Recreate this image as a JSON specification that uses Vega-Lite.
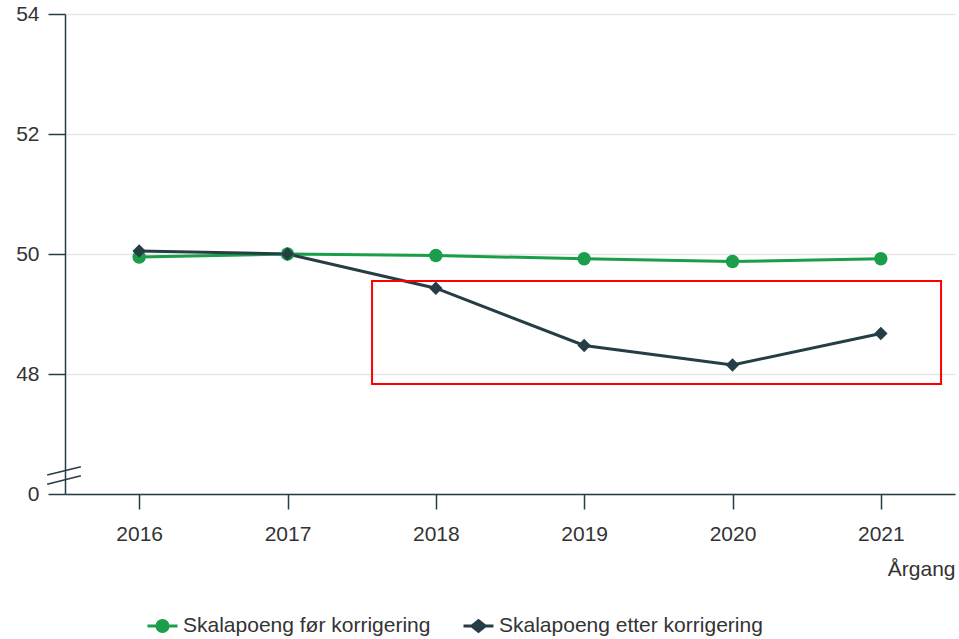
{
  "$schema": "https://vega.github.io/schema/vega-lite/v6.json",
  "autosize": {"type": "none"},
  "width": 890,
  "height": 480,
  "padding": {"top": 14, "left": 65, "right": 4, "bottom": 145},
  "background": "white",
  "config": {
    "view": {"stroke": null},
    "font": "Liberation Sans",
    "axis": {"labelFont": "Liberation Sans", "titleFont": "Liberation Sans", "labelColor": "#333333", "titleColor": "#333333", "labelFontSize": 21, "titleFontSize": 21, "titleFontWeight": "normal"},
    "legend": {"labelFont": "Liberation Sans", "labelFontSize": 21, "labelColor": "#333333", "labelLimit": 500,
      "orient": "none", "legendX": 81, "legendY": 595, "direction": "horizontal",
      "columnPadding": 26, "labelOffset": 4, "symbolSize": 900, "symbolStrokeWidth": 3, "symbolOpacity": 1}
  },
  "datasets": {
    "scores": [
      {"year": 2016, "series": "Skalapoeng før korrigering", "value": 49.95},
      {"year": 2017, "series": "Skalapoeng før korrigering", "value": 50.0},
      {"year": 2018, "series": "Skalapoeng før korrigering", "value": 49.975},
      {"year": 2019, "series": "Skalapoeng før korrigering", "value": 49.92},
      {"year": 2020, "series": "Skalapoeng før korrigering", "value": 49.875},
      {"year": 2021, "series": "Skalapoeng før korrigering", "value": 49.92},
      {"year": 2016, "series": "Skalapoeng etter korrigering", "value": 50.05},
      {"year": 2017, "series": "Skalapoeng etter korrigering", "value": 50.0},
      {"year": 2018, "series": "Skalapoeng etter korrigering", "value": 49.43},
      {"year": 2019, "series": "Skalapoeng etter korrigering", "value": 48.475},
      {"year": 2020, "series": "Skalapoeng etter korrigering", "value": 48.15},
      {"year": 2021, "series": "Skalapoeng etter korrigering", "value": 48.675}
    ],
    "box": [{"x1": 2017.57, "x2": 2021.406, "y1": 49.55, "y2": 47.833}],
    "breaks": [
      {"x1": 2015.38, "x2": 2015.607, "y1": 46.317, "y2": 46.455},
      {"x1": 2015.38, "x2": 2015.607, "y1": 46.162, "y2": 46.305}
    ]
  },
  "layer": [
    {
      "data": {"name": "scores"},
      "mark": {"type": "point", "filled": false, "opacity": 0, "strokeWidth": 3},
      "encoding": {
        "x": {
          "field": "year", "type": "quantitative",
          "scale": {"domain": [2015.5, 2021.5], "nice": false, "zero": false},
          "axis": {
            "values": [2016, 2017, 2018, 2019, 2020, 2021], "format": "d",
            "grid": false, "domainColor": "#263d45", "domainWidth": 1.5,
            "tickColor": "#263d45", "tickSize": 15, "tickWidth": 1.5, "labelPadding": 14,
            "title": "Årgang", "titleAnchor": "end", "titleAlign": "right", "titlePadding": 14
          }
        },
        "y": {
          "field": "value", "type": "quantitative",
          "scale": {"domain": [46, 54], "nice": false, "zero": false},
          "axis": {
            "values": [46, 48, 50, 52, 54], "format": "d",
            "labelExpr": "datum.value == 46 ? '0' : datum.label",
            "grid": true, "gridColor": "#e6e6e6", "gridWidth": 1.5,
            "domainColor": "#263d45", "domainWidth": 1.5,
            "tickColor": "#263d45", "tickSize": 17, "tickWidth": 1.5, "labelPadding": 9,
            "title": null
          }
        },
        "color": {
          "field": "series", "type": "nominal", "title": null,
          "scale": {"domain": ["Skalapoeng før korrigering", "Skalapoeng etter korrigering"], "range": ["#1a9e49", "#263d45"]}
        },
        "shape": {"field": "series", "type": "nominal", "title": null,
          "scale": {"domain": ["Skalapoeng før korrigering", "Skalapoeng etter korrigering"],
            "range": [
              "M-1,0H1M-0.37,0A0.37,0.37,0,1,1,0.37,0A0.37,0.37,0,1,1,-0.37,0ZM-0.2,0A0.2,0.2,0,1,1,0.2,0A0.2,0.2,0,1,1,-0.2,0ZM-0.06,0A0.06,0.06,0,1,1,0.06,0A0.06,0.06,0,1,1,-0.06,0Z",
              "M-1,0H1M-0.45,0L0,-0.36L0.45,0L0,0.36ZM-0.25,0L0,-0.2L0.25,0L0,0.2ZM-0.08,0L0,-0.06L0.08,0L0,0.06Z"
            ]}
        }
      }
    },
    {
      "data": {"name": "scores"},
      "mark": {"type": "line", "strokeWidth": 3},
      "encoding": {
        "x": {"field": "year", "type": "quantitative"},
        "y": {"field": "value", "type": "quantitative"},
        "color": {"field": "series", "type": "nominal", "title": null}
      }
    },
    {
      "data": {"name": "scores"},
      "mark": {"type": "point", "filled": true, "opacity": 1},
      "encoding": {
        "x": {"field": "year", "type": "quantitative"},
        "y": {"field": "value", "type": "quantitative"},
        "color": {"field": "series", "type": "nominal", "title": null},
        "shape": {"condition": {"test": "datum.series == 'Skalapoeng før korrigering'", "value": "circle"}, "value": "diamond"},
        "size": {"value": 180}
      }
    },
    {
      "data": {"name": "box"},
      "mark": {"type": "rect", "fill": null, "stroke": "#ff0000", "strokeWidth": 2},
      "encoding": {
        "x": {"field": "x1", "type": "quantitative"},
        "x2": {"field": "x2"},
        "y": {"field": "y1", "type": "quantitative"},
        "y2": {"field": "y2"}
      }
    },
    {
      "data": {"name": "breaks"},
      "mark": {"type": "rule", "stroke": "#263d45", "strokeWidth": 1.5, "clip": false},
      "encoding": {
        "x": {"field": "x1", "type": "quantitative"},
        "x2": {"field": "x2"},
        "y": {"field": "y1", "type": "quantitative"},
        "y2": {"field": "y2"}
      }
    }
  ]
}
